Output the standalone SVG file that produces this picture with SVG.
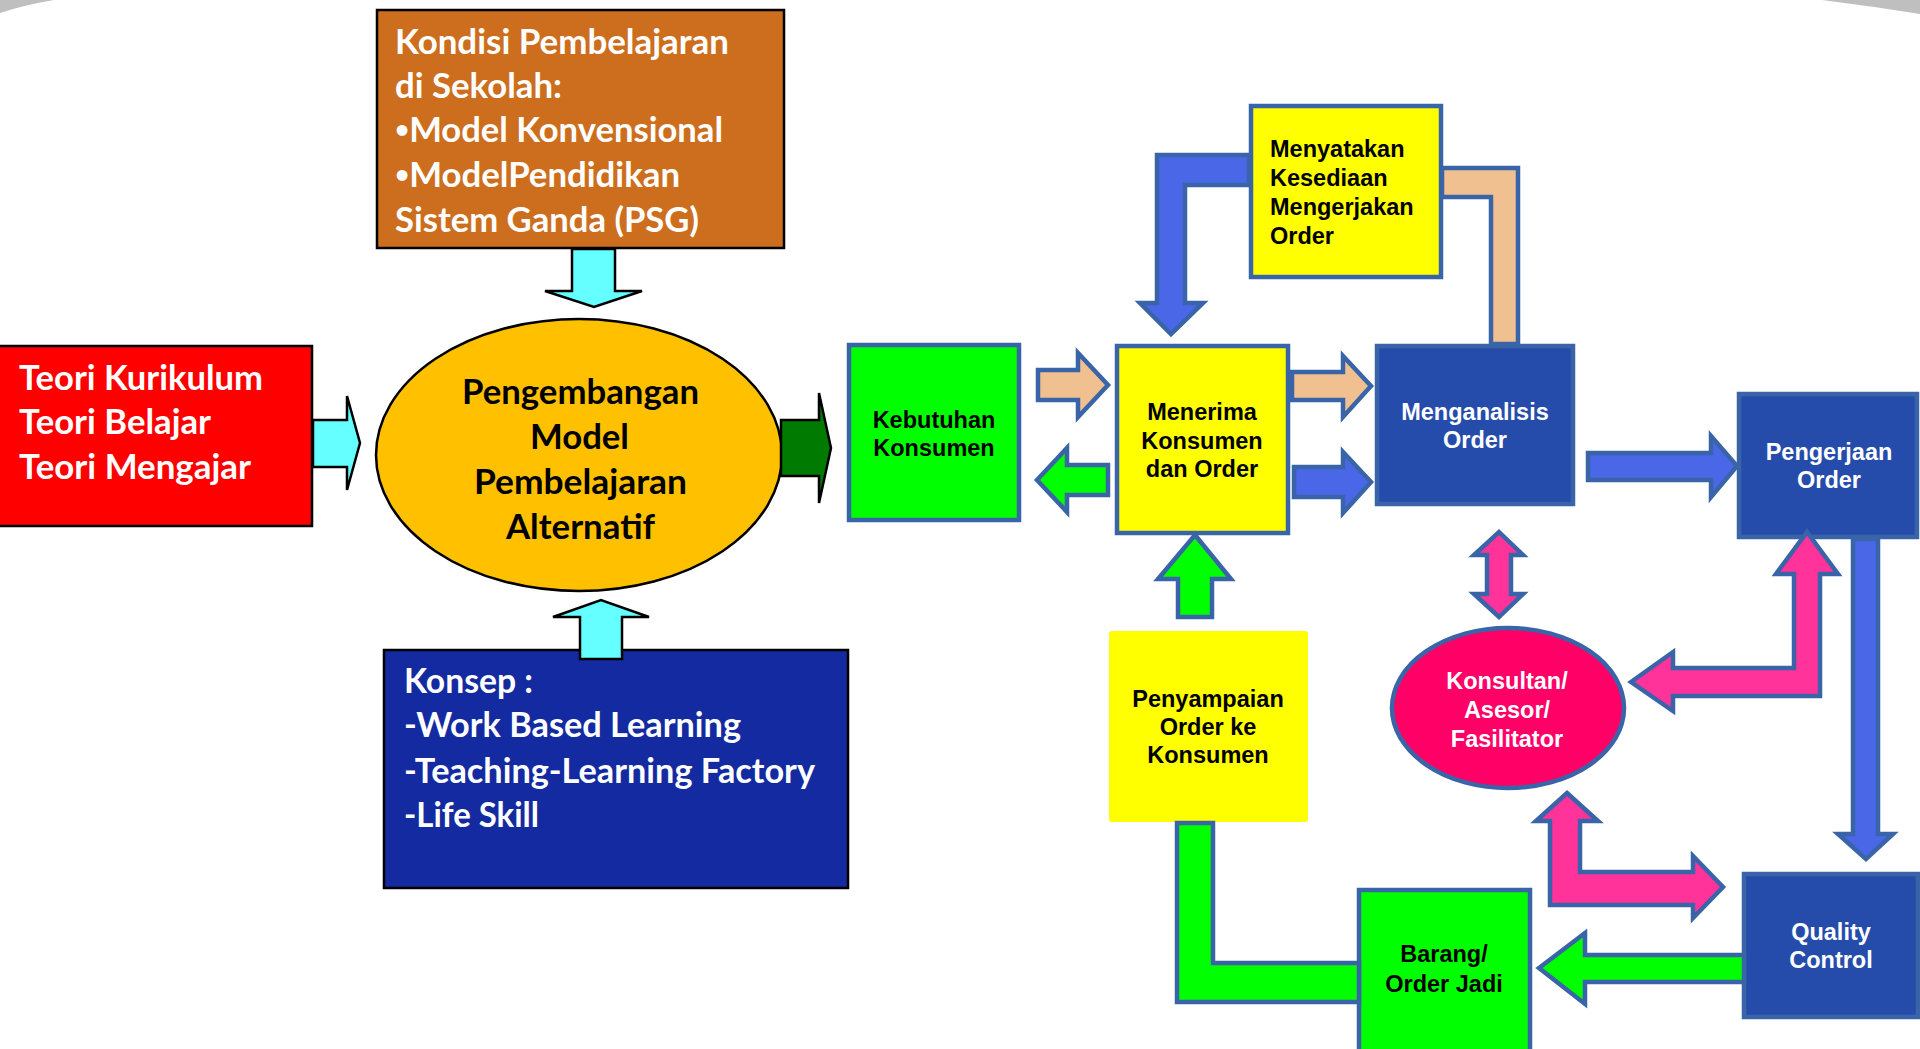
<svg xmlns="http://www.w3.org/2000/svg" width="1920" height="1049" viewBox="0 0 1920 1049">
<style>
.bg{fill:#ffffff}
.deco{fill:#bfbfbf}
.lbox{stroke:#000;stroke-width:2.5}
.ltxt{font-family:Lato,"Open Sans",sans-serif;font-weight:700;font-size:34px}
.bul{font-size:24px}
.rtxt{font-family:"Liberation Sans",Arial,sans-serif;font-weight:700;font-size:23.5px;text-anchor:middle}
.rtxt.st{text-anchor:start}
.rbox{stroke:#3a64a8;stroke-width:4.5}
.rarr{stroke:#3a64a8;stroke-width:4.5;stroke-linejoin:miter}
.larr{stroke:#000;stroke-width:2.5;stroke-linejoin:miter}
.w{fill:#fff}
.k{fill:#000}
</style>
<rect class="bg" x="0" y="0" width="1920" height="1049"/>
<path class="deco" d="M0,0 L54,0 Q24,5 0,13 Z"/>
<path class="deco" d="M1822,0 L1920,0 L1920,14 Q1870,6 1822,0 Z"/>

<g id="kondisi">
<rect class="lbox" x="377" y="10" width="407" height="238" fill="#cd6e1e"/>
<text class="ltxt w" x="395" y="54" textLength="334" lengthAdjust="spacingAndGlyphs">Kondisi Pembelajaran</text>
<text class="ltxt w" x="395" y="98" textLength="167" lengthAdjust="spacingAndGlyphs">di Sekolah:</text>
<text class="ltxt w" x="395" y="142" textLength="328" lengthAdjust="spacingAndGlyphs"><tspan class="bul" dy="-4">•</tspan><tspan dy="4">Model Konvensional</tspan></text>
<text class="ltxt w" x="395" y="187" textLength="285" lengthAdjust="spacingAndGlyphs"><tspan class="bul" dy="-4">•</tspan><tspan dy="4">ModelPendidikan</tspan></text>
<text class="ltxt w" x="395" y="232" textLength="304" lengthAdjust="spacingAndGlyphs">Sistem Ganda (PSG)</text>
</g>

<g id="teori">
<rect class="lbox" x="-2" y="346" width="314" height="180" fill="#ff0000"/>
<text class="ltxt w" x="19" y="390" textLength="244" lengthAdjust="spacingAndGlyphs">Teori Kurikulum</text>
<text class="ltxt w" x="19" y="434" textLength="192" lengthAdjust="spacingAndGlyphs">Teori Belajar</text>
<text class="ltxt w" x="19" y="479" textLength="232" lengthAdjust="spacingAndGlyphs">Teori Mengajar</text>
</g>

<g id="pengembangan">
<ellipse class="lbox" cx="579" cy="455" rx="203" ry="136" fill="#ffc000"/>
<text class="ltxt k" x="462" y="404" textLength="237" lengthAdjust="spacingAndGlyphs">Pengembangan</text>
<text class="ltxt k" x="530" y="449" textLength="99" lengthAdjust="spacingAndGlyphs">Model</text>
<text class="ltxt k" x="474" y="494" textLength="213" lengthAdjust="spacingAndGlyphs">Pembelajaran</text>
<text class="ltxt k" x="506" y="539" textLength="149" lengthAdjust="spacingAndGlyphs">Alternatif</text>
</g>

<g id="konsep">
<rect class="lbox" x="384" y="650" width="464" height="238" fill="#142aa0"/>
<text class="ltxt w" x="404" y="693" textLength="129" lengthAdjust="spacingAndGlyphs">Konsep :</text>
<text class="ltxt w" x="404" y="737" textLength="337" lengthAdjust="spacingAndGlyphs">-Work Based Learning</text>
<text class="ltxt w" x="404" y="783" textLength="411" lengthAdjust="spacingAndGlyphs">-Teaching-Learning Factory</text>
<text class="ltxt w" x="404" y="827" textLength="135" lengthAdjust="spacingAndGlyphs">-Life Skill</text>
</g>

<g id="kebutuhan">
<rect class="rbox" x="849" y="345" width="170" height="175" fill="#00ff00"/>
<text class="rtxt k" x="934" y="428">Kebutuhan</text>
<text class="rtxt k" x="934" y="456">Konsumen</text>
</g>

<g id="menerima">
<rect class="rbox" x="1117" y="346" width="171" height="187" fill="#ffff00"/>
<text class="rtxt k" x="1202" y="420">Menerima</text>
<text class="rtxt k" x="1202" y="449">Konsumen</text>
<text class="rtxt k" x="1202" y="477">dan Order</text>
</g>

<g id="menganalisis">
<rect class="rbox" x="1377" y="346" width="196" height="158" fill="#264cab"/>
<text class="rtxt w" x="1475" y="420">Menganalisis</text>
<text class="rtxt w" x="1475" y="448">Order</text>
</g>

<g id="pengerjaan">
<rect class="rbox" x="1739" y="394" width="178" height="143" fill="#264cab"/>
<text class="rtxt w" x="1829" y="460">Pengerjaan</text>
<text class="rtxt w" x="1829" y="488">Order</text>
</g>

<g id="quality">
<rect class="rbox" x="1744" y="874" width="174" height="143" fill="#264cab"/>
<text class="rtxt w" x="1831" y="940">Quality</text>
<text class="rtxt w" x="1831" y="968">Control</text>
</g>

<g id="konsultan">
<ellipse class="rbox" cx="1508" cy="708" rx="116" ry="80" fill="#ff0066"/>
<text class="rtxt w" x="1507" y="689">Konsultan/</text>
<text class="rtxt w" x="1507" y="718">Asesor/</text>
<text class="rtxt w" x="1507" y="747">Fasilitator</text>
</g>

<g id="penyampaian">
<rect x="1109" y="631" width="199" height="191" rx="3" fill="#ffff00"/>
<text class="rtxt k" x="1208" y="707">Penyampaian</text>
<text class="rtxt k" x="1208" y="735">Order ke</text>
<text class="rtxt k" x="1208" y="763">Konsumen</text>
</g>

<g id="barang">
<rect class="rbox" x="1359" y="890" width="171" height="175" fill="#00ff00"/>
<text class="rtxt k" x="1444" y="962">Barang/</text>
<text class="rtxt k" x="1444" y="992">Order Jadi</text>
</g>

<g id="connectors">
<polygon class="larr" fill="#66ffff" points="572,249 615,249 615,291 642,291 594,307 545,291 572,291"/>
<polygon class="larr" fill="#66ffff" points="313,420 347,420 347,396 360,443 347,490 347,467 313,467"/>
<polygon class="larr" fill="#007a00" points="781,420 819,420 819,393 831,448 819,503 819,476 781,476"/>
<polygon class="larr" fill="#66ffff" points="580,659 580,617 553,617 601,600 649,617 622,617 622,659"/>

<polygon class="rarr" fill="#f0c090" points="1038,370 1078,370 1078,353 1108,385 1078,417 1078,400 1038,400"/>
<polygon class="rarr" fill="#00ff00" points="1037,480 1067,448 1067,465 1108,465 1108,495 1067,495 1067,512"/>
<polygon class="rarr" fill="#f0c090" points="1292,372 1343,372 1343,356 1371,386 1343,417 1343,400 1292,400"/>
<polygon class="rarr" fill="#4a67e8" points="1294,467 1343,467 1343,452 1371,482 1343,513 1343,497 1294,497"/>
<polygon class="rarr" fill="#4a67e8" points="1249,155 1157,155 1157,303 1140,303 1171,334 1203,303 1185,303 1185,185 1249,185"/>
<polygon class="rarr" fill="#f0c090" points="1442,168 1518,168 1518,344 1491,344 1491,197 1442,197"/>
<polygon class="rarr" fill="#4a67e8" points="1588,453 1711,453 1711,436 1737,466 1711,497 1711,480 1588,480"/>
<polygon class="rarr" fill="#4a67e8" points="1853,539 1878,539 1878,834 1893,834 1866,859 1838,834 1853,834"/>
<polygon class="rarr" fill="#ff3399" points="1499,532 1523,555 1511,555 1511,594 1523,594 1499,617 1474,594 1487,594 1487,555 1474,555"/>
<polygon class="rarr" fill="#ff3399" points="1631,682 1673,652 1673,668 1794,668 1794,574 1776,574 1807,532 1838,574 1820,574 1820,696 1673,696 1673,711"/>
<polygon class="rarr" fill="#ff3399" points="1567,793 1598,821 1580,821 1580,872 1693,872 1693,856 1723,887 1693,918 1693,905 1550,905 1550,821 1536,821"/>
<polygon class="rarr" fill="#00ff00" points="1539,968 1585,933 1585,955 1744,955 1744,982 1585,982 1585,1004"/>
<polygon class="rarr" fill="#00ff00" points="1177,823 1213,823 1213,963 1359,963 1359,1002 1177,1002"/>
<polygon class="rarr" fill="#00ff00" points="1195,535 1231,579 1212,579 1212,617 1178,617 1178,579 1158,579"/>
</g>

<g id="menyatakan">
<rect class="rbox" x="1251" y="106" width="190" height="171" fill="#ffff00"/>
<text class="rtxt st k" x="1270" y="157">Menyatakan</text>
<text class="rtxt st k" x="1270" y="186">Kesediaan</text>
<text class="rtxt st k" x="1270" y="215">Mengerjakan</text>
<text class="rtxt st k" x="1270" y="244">Order</text>
</g>
</svg>
